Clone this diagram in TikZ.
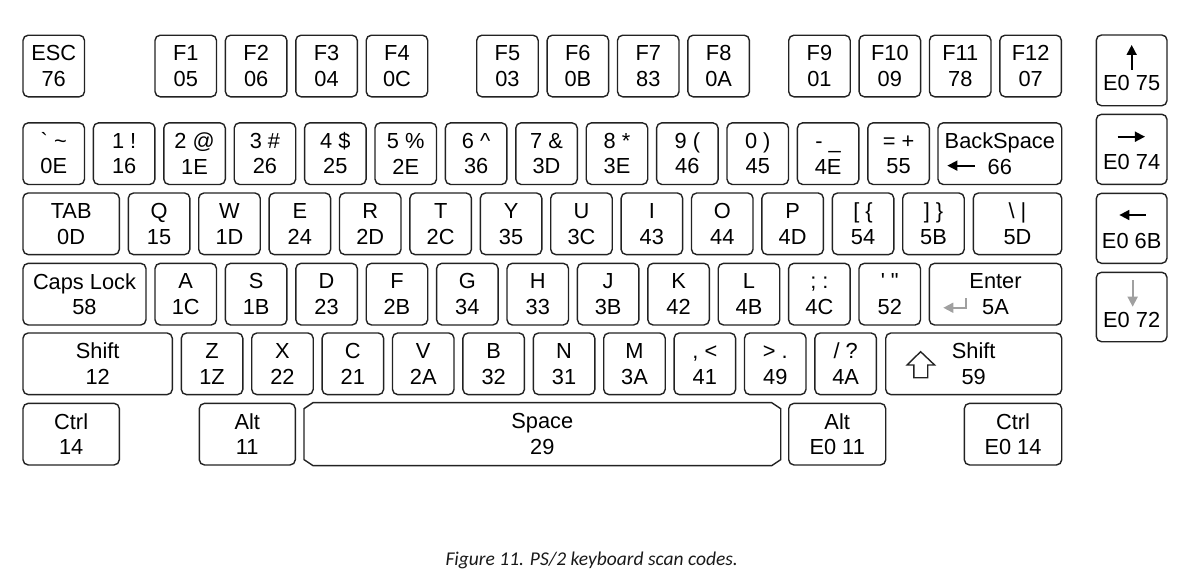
\documentclass[tikz,border=0pt]{standalone}
\usepackage{fontspec}
\newfontfamily\keyfont{Liberation Sans}
\newfontfamily\capfont{Carlito}
\usetikzlibrary{arrows.meta, calc}
\definecolor{keyline}{HTML}{222222}
\definecolor{symgray}{HTML}{A0A0A0}
\newcommand{\capx}{\vphantom{X}}
\tikzset{
    key/.style={rectangle, draw=keyline, line width=0.7pt, rounded corners=2.6pt, minimum width=30.75pt, minimum height=30.8pt, inner sep=0pt, align=center, font=\keyfont\fontsize{10.9}{12.85}\selectfont},
    sym/.style={-{Triangle[length=5pt, width=5pt]}, line width=0.85pt}
}

\begin{document}
\begin{tikzpicture}[x=0.5pt, y=-0.5pt]
    \useasboundingbox (0,0) rectangle (1202,584);

    % Function row
    \node[key] (esc) at (53.75,66) {\capx ESC\\76};
    \foreach \kx/\lbl/\code in {155/F1/05, 225.4/F2/06, 295.8/F3/04, 366.2/F4/0C, 476.7/F5/03, 547.1/F6/0B, 617.5/F7/83, 687.9/F8/0A, 788.7/F9/01, 859.1/F10/09, 929.5/F11/78, 999.9/F12/07}
        \node[key] (\lbl) at (\kx+30.75,66) {\capx\smash{\lbl}\\\code};

    % Number row
    \foreach \lbl/\code [count=\i from 0] in {{` \textasciitilde}/0E, {1 !}/16, {2 @}/1E, {3 \#}/26, {4 \$}/25, {5 \%}/2E, {6 \textasciicircum}/36, {7 \&}/3D, {8 *}/3E, {9 (}/46, {0 )}/45, {- \_}/4E, {= +}/55}
        \node[key] (num\i) at (53.75+70.4*\i,153.65) {\capx\smash{\lbl}\\\code};
    \node[key, minimum width=61.85pt] (bksp) at (999.85,153.65) {\capx BackSpace\\66};

    % Top letter row
    \node[key, minimum width=48.15pt] (tab) at (71.15,223.8) {\capx TAB\\0D};
    \foreach \lbl/\code [count=\i from 0] in {Q/15, W/1D, E/24, R/2D, T/2C, Y/35, U/3C, I/43, O/44, P/4D, {[ \{}/54, {] \}}/5B}
        \node[key] (top\i) at (159.05+70.4*\i,223.8) {\capx\smash{\lbl}\\\code};
    \node[key, minimum width=44.2pt] (bslash) at (1017.5,223.8) {\capx\smash{\textbackslash\ |}\\5D};

    % Home row
    \node[key, minimum width=61.5pt] (caps) at (84.5,294.15) {\capx Caps Lock\\58};
    \foreach \lbl/\code [count=\i from 0] in {A/1C, S/1B, D/23, F/2B, G/34, H/33, J/3B, K/42, L/4B, {; :}/4C, {' "}/52}
        \node[key] (home\i) at (185.75+70.4*\i,294.15) {\capx\smash{\lbl}\\\code};
    \node[key, minimum width=66.2pt] (enter) at (995.5,294.15) {\capx Enter\\5A};

    % Bottom letter row
    \node[key, minimum width=74.65pt] (lshift) at (97.65,363.8) {\capx Shift\\12};
    \foreach \lbl/\code [count=\i from 0] in {Z/1Z, X/22, C/21, V/2A, B/32, N/31, M/3A, {, <}/41, {> .}/49, {/ ?}/4A}
        \node[key] (bot\i) at (212.05+70.4*\i,363.8) {\capx\smash{\lbl}\\\code};
    \node[key, minimum width=88pt] (rshift) at (973.7,363.8) {\capx Shift\\59};

    % Space row
    \node[key, minimum width=48.15pt] (lctrl) at (71.15,434.15) {\capx Ctrl\\14};
    \node[key, minimum width=48pt] (lalt) at (247.3,434.15) {\capx Alt\\11};
    \node[key, draw=none, minimum width=237.65pt] (space) at (542.35,434.15) {\capx Space\\29};
    \draw[draw=keyline, line width=0.7pt] ($(space.north west)+(9,0)$) -- ($(space.north east)+(-9,0)$) -- ($(space.north east)+(0,6)$) -- ($(space.south east)+(0,-6)$) -- ($(space.south east)+(-9,0)$) -- ($(space.south west)+(9,0)$) -- ($(space.south west)+(0,-6)$) -- ($(space.north west)+(0,6)$) -- cycle;
    \node[key, minimum width=48.5pt] (ralt) at (837.2,434.15) {\capx Alt\\E0 11};
    \node[key, minimum width=48.7pt] (rctrl) at (1013,434.15) {\capx Ctrl\\E0 14};

    % Cursor keys
    \node[key, minimum width=35.35pt, minimum height=35.35pt] (arrup) at (1131.65,70.35) {\capx\\E0 75};
    \node[key, minimum width=35.35pt, minimum height=35pt] (arrright) at (1131.65,149.3) {\capx\\E0 74};
    \node[key, minimum width=35.35pt, minimum height=35pt] (arrleft) at (1131.65,228.3) {\capx\\E0 6B};
    \node[key, minimum width=35.35pt, minimum height=34.7pt] (arrdown) at (1131.65,307) {\capx\\E0 72};

    % Key symbols
    \draw[sym] ($(arrup)+(0,-0.4)$) -- ($(arrup)+(0,-25.4)$);
    \draw[sym] ($(arrright)+(-14,-12.6)$) -- ($(arrright)+(13.3,-12.6)$);
    \draw[sym] ($(arrleft)+(14.3,-13.3)$) -- ($(arrleft)+(-12.3,-13.3)$);
    \draw[sym, draw=symgray] ($(arrdown)+(1,-27)$) -- ($(arrdown)+(1,-0.3)$);
    \draw[sym] ($(bksp)+(-25,12)$) -- ($(bksp)+(-52.5,12)$);
    \draw[sym, draw=symgray] ($(enter)+(-29.5,4.2)$) -- ++(0,9.4) -- ++(-22.7,0);
    \draw[line width=0.7pt, draw=keyline, line join=miter] ($(rshift)+(-53.1,-12.1)$) -- ++(-13.6,13.3) -- ++(6.9,0) -- ++(0,12.7) -- ++(13.8,0) -- ++(0,-12.7) -- ++(6.9,0) -- cycle;

    \node[anchor=base, font=\capfont\itshape\fontsize{9.75}{11}\selectfont, text=black!90] (caption) at (591.7,565) {Figure 11. PS/2 keyboard scan codes.};
\end{tikzpicture}
\end{document}
